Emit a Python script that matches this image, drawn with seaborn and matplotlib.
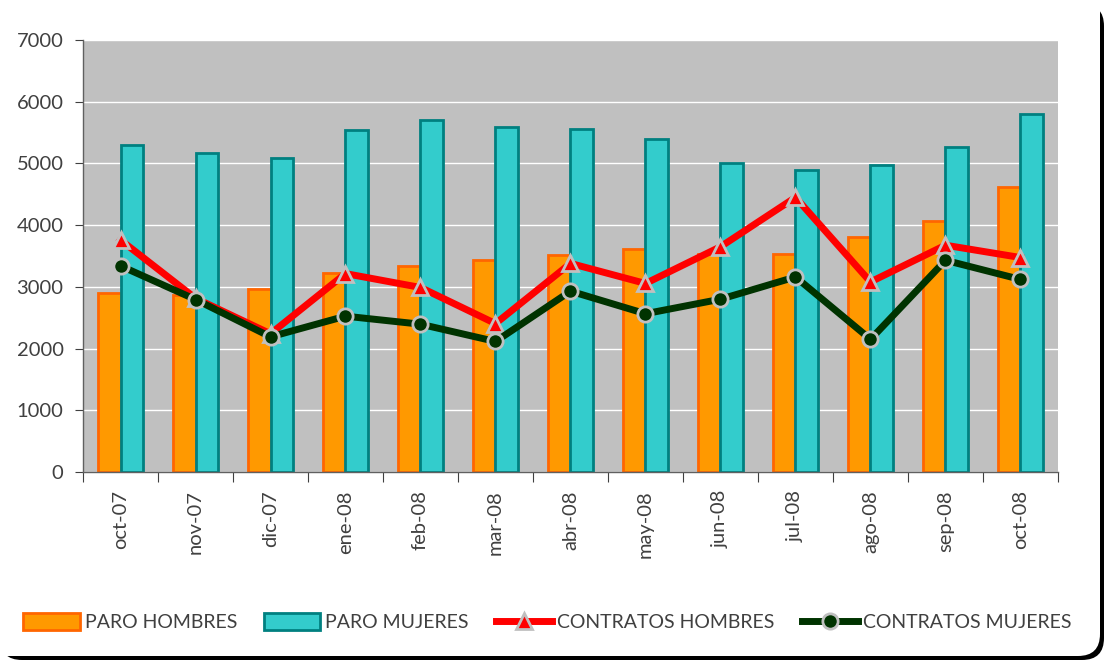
import seaborn as sns
import matplotlib.pyplot as plt
import pandas as pd
from matplotlib.patches import FancyBboxPatch, Patch
from matplotlib.lines import Line2D

meses = ['oct-07', 'nov-07', 'dic-07', 'ene-08', 'feb-08', 'mar-08', 'abr-08',
         'may-08', 'jun-08', 'jul-08', 'ago-08', 'sep-08', 'oct-08']
paro_hombres = [2900, 2860, 2970, 3225, 3340, 3430, 3510, 3610, 3530, 3525, 3810, 4070, 4620]
paro_mujeres = [5305, 5170, 5080, 5540, 5700, 5590, 5550, 5395, 5000, 4900, 4970, 5260, 5795]
contratos_hombres = [3760, 2815, 2240, 3215, 2990, 2405, 3380, 3055, 3650, 4450, 3080, 3675, 3475]
contratos_mujeres = [3340, 2795, 2190, 2525, 2395, 2115, 2930, 2565, 2800, 3160, 2150, 3430, 3120]

series = ['PARO HOMBRES', 'PARO MUJERES']
colores = {'PARO HOMBRES': '#FF9900', 'PARO MUJERES': '#33CCCC'}
bordes = {'PARO HOMBRES': '#FF6600', 'PARO MUJERES': '#008080'}

df = pd.DataFrame({
    'mes': meses * 2,
    'valor': paro_hombres + paro_mujeres,
    'serie': ['PARO HOMBRES'] * 13 + ['PARO MUJERES'] * 13,
})

txt = '#404040'
plt.rcParams['font.family'] = ['Lato', 'DejaVu Sans']

fig = plt.figure(figsize=(11.06, 6.64), dpi=100)

# marco redondeado con sombra a la derecha y abajo
fig.patches.append(FancyBboxPatch((0, 4), 1104, 656, boxstyle='round,pad=0,rounding_size=22',
                                  transform=None, facecolor='black', edgecolor='none', zorder=-3))
fig.patches.append(FancyBboxPatch((-20, 8), 1120, 676, boxstyle='round,pad=0,rounding_size=22',
                                  transform=None, facecolor='white', edgecolor='none', zorder=-2))

ax = fig.add_axes([83 / 1106, 1 - 472 / 664, (1058 - 83) / 1106, (472 - 40) / 664])
ax.set_facecolor('#C0C0C0')

sns.barplot(data=df, x='mes', y='valor', hue='serie', order=meses, hue_order=series,
            palette=colores, saturation=1, width=0.59, gap=0, linewidth=2, legend=False,
            ax=ax, zorder=2)
for cont, s in zip(ax.containers, series):
    for bar in cont:
        bar.set_edgecolor(bordes[s])

sns.pointplot(x=meses, y=contratos_hombres, color='#FF0000', marker='^', markersize=11,
              linewidth=5, markeredgecolor='#C0C0C0', markeredgewidth=2, ax=ax, zorder=4)
sns.pointplot(x=meses, y=contratos_mujeres, color='#003300', marker='o', markersize=11,
              linewidth=5, markeredgecolor='#C0C0C0', markeredgewidth=2, ax=ax, zorder=5)

ax.set_xlim(-0.5, 12.5)
ax.set_ylim(0, 7000)
ax.set_yticks(range(0, 7001, 1000))
ax.yaxis.grid(True, color='white', linewidth=1)
ax.set_axisbelow(True)
ax.set_xlabel('')
ax.set_ylabel('')

ax.set_xticks([i - 0.5 for i in range(14)])
ax.set_xticklabels([])
ax.set_xticks(range(13), minor=True)
ax.set_xticklabels(meses, minor=True, rotation=90, fontsize=14.5, color=txt)
ax.tick_params(axis='x', which='major', length=7, color='#404040', direction='out')
ax.tick_params(axis='x', which='minor', length=0, pad=13)
ax.tick_params(axis='y', length=6, color='#404040', labelsize=14.5, labelcolor=txt, pad=8)

for s in ['top', 'right']:
    ax.spines[s].set_visible(False)
for s in ['left', 'bottom']:
    ax.spines[s].set_color('#606060')
    ax.spines[s].set_linewidth(1)

handles = [
    Patch(facecolor='#FF9900', edgecolor='#FF6600', linewidth=2),
    Patch(facecolor='#33CCCC', edgecolor='#008080', linewidth=2),
    Line2D([], [], color='#FF0000', linewidth=5, marker='^', markersize=11,
           markeredgecolor='#C0C0C0', markeredgewidth=2),
    Line2D([], [], color='#003300', linewidth=5, marker='o', markersize=11,
           markeredgecolor='#C0C0C0', markeredgewidth=2),
]
labels = ['PARO HOMBRES', 'PARO MUJERES', 'CONTRATOS HOMBRES', 'CONTRATOS MUJERES']
fig.legend(handles, labels, loc='center', bbox_to_anchor=(0.495, 0.063), ncol=4,
           frameon=False, fontsize=14, labelcolor=txt, handlelength=2.9, handleheight=1.0,
           handletextpad=0.25, columnspacing=1.4)

fig.savefig('out.png', dpi=100)
